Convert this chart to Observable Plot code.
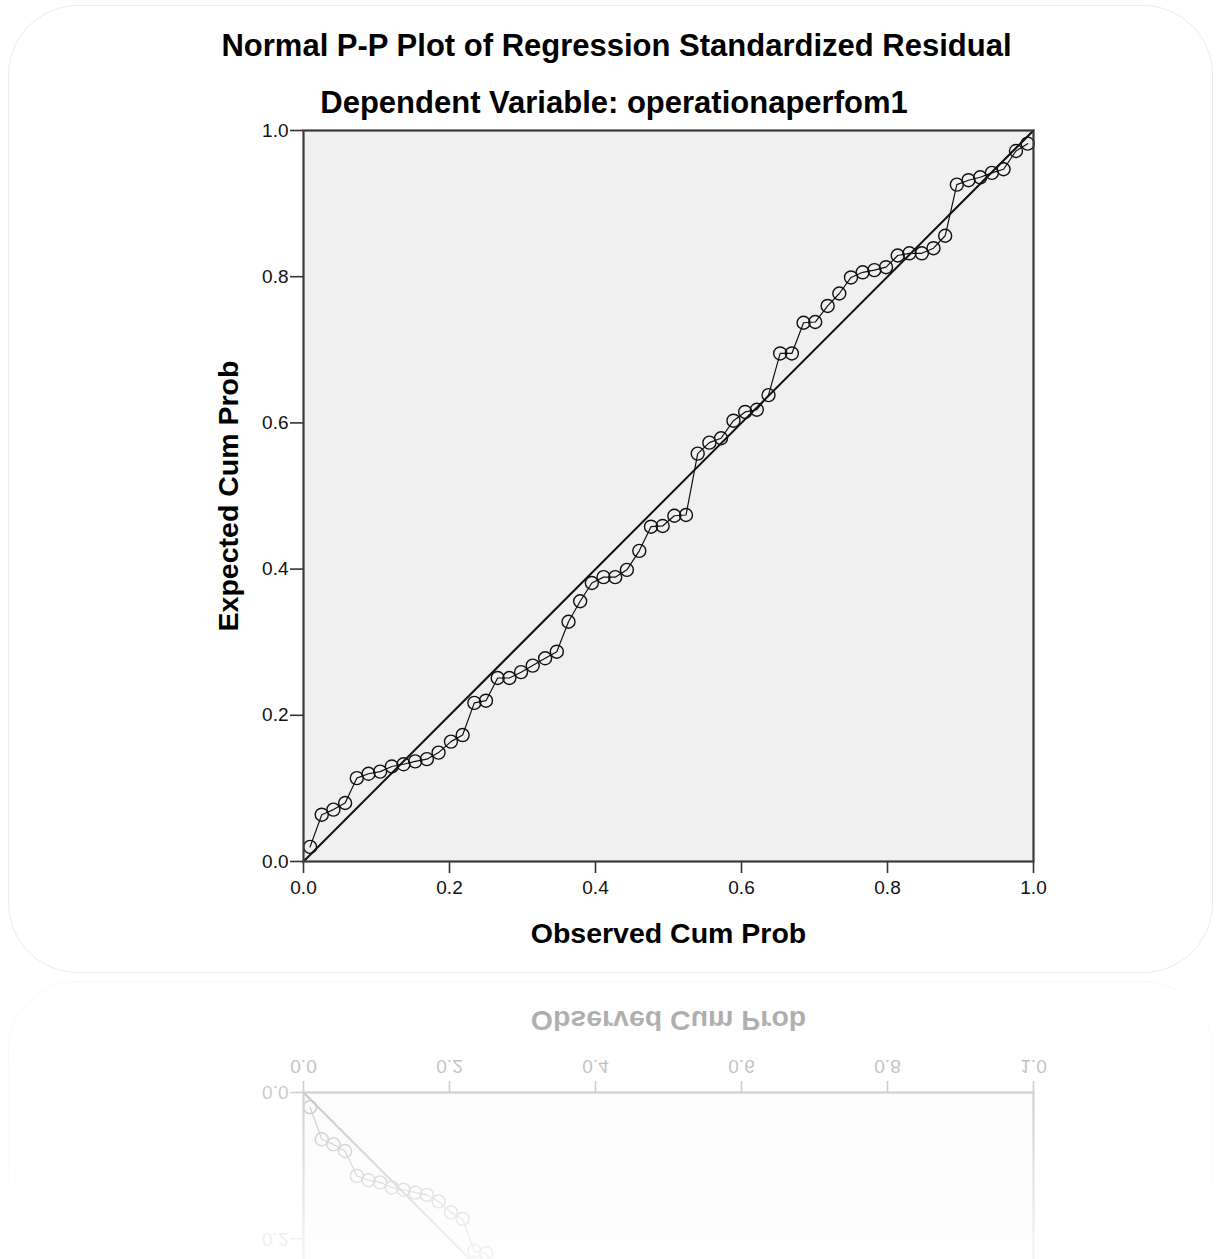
<!DOCTYPE html>
<html>
<head>
<meta charset="utf-8">
<script src="https://cdn.jsdelivr.net/npm/d3@7"></script>
<script src="https://cdn.jsdelivr.net/npm/@observablehq/plot@0.6"></script>
<style>
  html, body { margin: 0; padding: 0; background: #fff; }
  body { width: 1223px; height: 1259px; overflow: hidden; position: relative;
         font-family: "Liberation Sans", Arial, sans-serif; }
  .card { position: absolute; left: 0; top: 0; width: 1223px; height: 977px; }
  .border { position: absolute; left: 8px; top: 5px; width: 1205px; height: 968px;
            border: 1px solid #ebebeb; border-radius: 70px; box-sizing: border-box; }
  .ttl { position: absolute; left: 0; text-align: center; font-weight: bold; color: #000;
         font-size: 31px; line-height: 34px; white-space: nowrap; }
  .chart { position: absolute; left: 0; top: 120px; }
  .refl { position: absolute; left: 0; top: 977px; width: 1223px; height: 282px; overflow: hidden; }
  .refl .card { transform: scaleY(-1); }
  .fade { position: absolute; left: 0; top: 0; width: 1223px; height: 282px;
          background: linear-gradient(to bottom, rgba(255,255,255,0.64) 0%, rgba(255,255,255,0.78) 45%, rgba(255,255,255,0.95) 100%); }
</style>
</head>
<body>
<script>
// ---- data ----
const titleText = "Normal P-P Plot of Regression Standardized Residual";
const subtitleText = "Dependent Variable: operationaperfom1";
const xLabel = "Observed Cum Prob";
const yLabel = "Expected Cum Prob";
const xTicks = [0.0, 0.2, 0.4, 0.6, 0.8, 1.0];
const yTicks = [0.0, 0.2, 0.4, 0.6, 0.8, 1.0];
const reflectedYTicks = [0.0, 0.2];   // the only y ticks visible in the mirrored strip
const diagonal = [0, 1];

const observed = [
  0.009, 0.025, 0.041, 0.057, 0.073, 0.089, 0.105, 0.121, 0.137, 0.153,
  0.169, 0.185, 0.202, 0.218, 0.234, 0.250, 0.266, 0.282, 0.298, 0.314,
  0.331, 0.347, 0.363, 0.379, 0.395, 0.411, 0.427, 0.443, 0.460, 0.476,
  0.492, 0.508, 0.524, 0.540, 0.556, 0.572, 0.589, 0.605, 0.621, 0.637,
  0.653, 0.669, 0.685, 0.701, 0.718, 0.734, 0.750, 0.766, 0.782, 0.798,
  0.814, 0.830, 0.847, 0.863, 0.879, 0.895, 0.911, 0.927, 0.943, 0.959,
  0.976, 0.992
];
const expected = [
  0.020, 0.064, 0.071, 0.080, 0.114, 0.120, 0.123, 0.130, 0.133, 0.137,
  0.140, 0.149, 0.164, 0.173, 0.217, 0.220, 0.251, 0.251, 0.259, 0.268,
  0.278, 0.287, 0.328, 0.356, 0.381, 0.389, 0.389, 0.399, 0.425, 0.458,
  0.459, 0.473, 0.474, 0.558, 0.573, 0.579, 0.603, 0.615, 0.618, 0.638,
  0.695, 0.695, 0.737, 0.738, 0.760, 0.777, 0.799, 0.806, 0.809, 0.813,
  0.829, 0.832, 0.832, 0.839, 0.856, 0.926, 0.932, 0.936, 0.942, 0.947,
  0.972, 0.982
];

function makeChart(reflected) {
  const data = observed.map((o, i) => ({o, e: expected[i]}));
  const fmt = d3.format(".1f");
  const marks = [
    Plot.frame({fill: "#f0f0f0"}),
    Plot.line(diagonal, {x: d => d, y: d => d, stroke: "#111", strokeWidth: 2}),
    Plot.line(data, {x: "o", y: "e", stroke: "#111", strokeWidth: 1.2}),
    Plot.dot(data, {x: "o", y: "e", r: 6.5, stroke: "#111", strokeWidth: 1.4, fill: "none"}),
    Plot.axisX({ticks: xTicks, tickFormat: fmt, tickSize: 12, tickPadding: 7, fontSize: 19, label: null, stroke: "#333", strokeWidth: 1.6}),
    Plot.axisY({ticks: reflected ? reflectedYTicks : yTicks, tickFormat: fmt, tickSize: 13, tickPadding: 2, fontSize: 19, label: null, stroke: "#333", strokeWidth: 1.6}),
    Plot.frame({stroke: "#3a3a3a", strokeWidth: 2.2}),
    Plot.text([xLabel], {text: d => d, frameAnchor: "bottom", textAnchor: "middle", lineAnchor: "middle", dy: 72, fontSize: 28.5, fontWeight: "bold", fill: "#000"})
  ];
  if (!reflected) {
    marks.push(Plot.text([yLabel], {text: d => d, frameAnchor: "left", textAnchor: "middle", lineAnchor: "middle", dx: -75, rotate: -90, fontSize: 28.5, fontWeight: "bold", fill: "#000"}));
  }
  return Plot.plot({
    width: 1223,
    height: 850,
    marginLeft: 303,
    marginRight: 190,
    marginTop: 10,
    marginBottom: 109,
    x: {domain: [0, 1]},
    y: {domain: [0, 1]},
    style: {fontFamily: '"Liberation Sans", Arial, sans-serif', background: "transparent", overflow: "visible", color: "#111"},
    marks
  });
}

function buildCard(reflected) {
  const card = document.createElement("div");
  card.className = "card";
  const border = document.createElement("div");
  border.className = "border";
  card.appendChild(border);
  const chartWrap = document.createElement("div");
  chartWrap.className = "chart";
  chartWrap.appendChild(makeChart(reflected));
  card.appendChild(chartWrap);
  if (!reflected) {
    const t = document.createElement("div");
    t.className = "ttl"; t.style.top = "29px"; t.style.width = "1233px"; t.textContent = titleText;
    card.appendChild(t);
    const s = document.createElement("div");
    s.className = "ttl"; s.style.top = "86px"; s.style.width = "1228px"; s.textContent = subtitleText;
    card.appendChild(s);
  }
  return card;
}

document.body.appendChild(buildCard(false));
const refl = document.createElement("div");
refl.className = "refl";
refl.setAttribute("aria-hidden", "true");
refl.appendChild(buildCard(true));
const fade = document.createElement("div");
fade.className = "fade";
refl.appendChild(fade);
document.body.appendChild(refl);
</script>
</body>
</html>
